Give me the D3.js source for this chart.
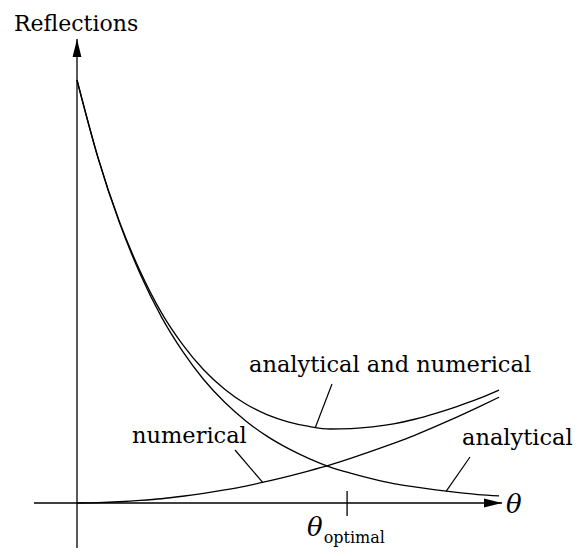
<!DOCTYPE html>
<html>
<head>
<meta charset="utf-8">
<script src="https://cdn.jsdelivr.net/npm/d3@7"></script>
<style>
  html, body { margin: 0; padding: 0; background: #fff; }
</style>
</head>
<body>
<svg id="chart" width="578" height="556" font-family="'DejaVu Serif', 'Liberation Serif', serif"></svg>
<script>
// Angle samples (normalised θ) and reflection levels of each contribution
const theta = [0, 0.05, 0.10, 0.15, 0.20, 0.25, 0.30, 0.35, 0.40, 0.45, 0.50,
               0.55, 0.60, 0.65, 0.70, 0.75, 0.80, 0.85, 0.90, 0.95, 1.00];
const analytical = [1.000, 0.815, 0.664, 0.541, 0.440, 0.359, 0.292, 0.238, 0.194, 0.158, 0.129,
                    0.105, 0.085, 0.070, 0.057, 0.046, 0.038, 0.031, 0.025, 0.020, 0.017];
const numerical = [0.000, 0.001, 0.003, 0.006, 0.010, 0.016, 0.023, 0.031, 0.040, 0.051, 0.063,
                   0.076, 0.090, 0.106, 0.123, 0.141, 0.160, 0.181, 0.203, 0.226, 0.250];
const combined = [1.000, 0.816, 0.667, 0.547, 0.450, 0.375, 0.315, 0.269, 0.234, 0.209, 0.192,
                  0.181, 0.175, 0.176, 0.180, 0.187, 0.198, 0.212, 0.228, 0.246, 0.267];

// Curve labels: text, label anchor, and the θ where the leader line meets the curve
const labels = [
  { text: "analytical and numerical", series: combined, x: 249, y: 372, from: [332, 384], at: 0.565 },
  { text: "numerical", series: numerical, x: 132, y: 443, from: [235, 450], at: 0.44 },
  { text: "analytical", series: analytical, x: 462, y: 445, from: [470, 457], at: 0.875 }
];
const thetaOptimal = 0.640;

const svg = d3.select("#chart");
const x = d3.scaleLinear().domain([0, 1]).range([77, 499]);
const y = d3.scaleLinear().domain([0, 1]).range([503, 80]);

// Arrowhead marker
svg.append("defs").append("marker")
  .attr("id", "arrow")
  .attr("viewBox", "0 0 18 10")
  .attr("refX", 18).attr("refY", 5)
  .attr("markerWidth", 18).attr("markerHeight", 10)
  .attr("markerUnits", "userSpaceOnUse")
  .attr("orient", "auto")
  .append("path").attr("d", "M0,0.6 L18,5 L0,9.4 Z").attr("fill", "#000");

// Axes
svg.append("line")
  .attr("x1", 34).attr("y1", y(0)).attr("x2", 502).attr("y2", y(0))
  .attr("stroke", "#000").attr("stroke-width", 1.3).attr("marker-end", "url(#arrow)");
svg.append("line")
  .attr("x1", x(0)).attr("y1", 548).attr("x2", x(0)).attr("y2", 39)
  .attr("stroke", "#000").attr("stroke-width", 1.3).attr("marker-end", "url(#arrow)");

svg.append("text").attr("x", 14).attr("y", 31).attr("font-size", 22).text("Reflections");
svg.append("text").attr("x", 506).attr("y", 513).attr("font-size", 26)
  .attr("font-style", "italic").text("θ");

// Optimal angle tick and label
svg.append("line")
  .attr("x1", x(thetaOptimal)).attr("x2", x(thetaOptimal))
  .attr("y1", y(0) - 12).attr("y2", y(0) + 13)
  .attr("stroke", "#000").attr("stroke-width", 1.3);
const opt = svg.append("text").attr("x", 307).attr("y", 536).attr("font-size", 26);
opt.append("tspan").attr("font-style", "italic").text("θ");
opt.append("tspan").attr("font-size", 16).attr("dy", 7).attr("dx", 1).text("optimal");

// Curves
const line = d3.line()
  .x((d, i) => x(theta[i]))
  .y(d => y(d))
  .curve(d3.curveMonotoneX);
[analytical, numerical, combined].forEach(series => {
  svg.append("path").attr("d", line(series))
    .attr("fill", "none").attr("stroke", "#000").attr("stroke-width", 1.3);
});

// Labels with leader lines
const valueAt = (series, t) => {
  const i = Math.min(theta.length - 2, d3.bisectRight(theta, t) - 1);
  const f = (t - theta[i]) / (theta[i + 1] - theta[i]);
  return series[i] + f * (series[i + 1] - series[i]);
};
labels.forEach(l => {
  svg.append("text").attr("x", l.x).attr("y", l.y).attr("font-size", 22.5).text(l.text);
  svg.append("line")
    .attr("x1", l.from[0]).attr("y1", l.from[1])
    .attr("x2", x(l.at)).attr("y2", y(valueAt(l.series, l.at)))
    .attr("stroke", "#000").attr("stroke-width", 1.2);
});
</script>
</body>
</html>
